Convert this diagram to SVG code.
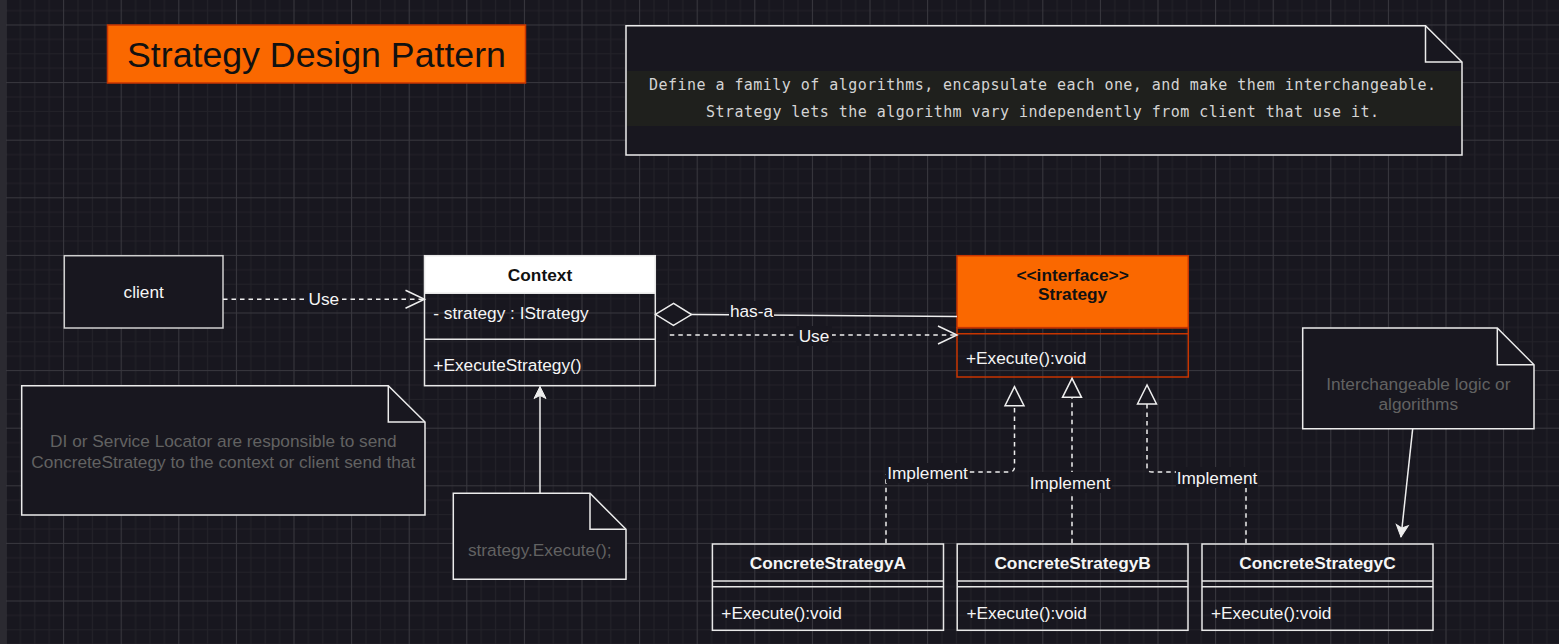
<svg xmlns="http://www.w3.org/2000/svg" width="1559" height="644" viewBox="0 0 1559 644">
<style>
.t{font-family:"Liberation Sans",Arial,Helvetica,sans-serif;font-size:17.28px;fill:#f5f5f5}
.b{font-weight:bold}
.c{text-anchor:middle}
.dk{fill:#111}
.nt{fill:#626262}
.box{fill:none;stroke:#e8e8e8;stroke-width:1.5}
.note{fill:#18171f;stroke:#ececec;stroke-width:1.5}
.e{fill:none;stroke:#eeeeee;stroke-width:1.5}
.d{stroke-dasharray:4.5 4}
.lb{fill:#18171f}
.mono{font-family:"DejaVu Sans Mono","Liberation Mono",monospace;font-size:15px;fill:#d4d4d4;text-anchor:middle}
</style>
<defs>
<pattern id="grid" x="5.5" y="24.5" width="57.6" height="57.6" patternUnits="userSpaceOnUse">
<path d="M14.9,0V57.6M29.3,0V57.6M43.7,0V57.6M0,14.9H57.6M0,29.3H57.6M0,43.7H57.6" stroke="#232229" stroke-width="1" fill="none"/>
<path d="M0.5,0V57.6M0,0.5H57.6" stroke="#39383f" stroke-width="1" fill="none"/>
</pattern>
<marker id="open" markerUnits="userSpaceOnUse" markerWidth="22" markerHeight="22" refX="19" refY="9" orient="auto" overflow="visible">
<path d="M0,0L19,9L0,18" fill="none" stroke="#eeeeee" stroke-width="1.5" stroke-dasharray="none"/>
</marker>
<marker id="tri" markerUnits="userSpaceOnUse" markerWidth="22" markerHeight="22" refX="19" refY="9.5" orient="auto" overflow="visible">
<path d="M19,9.5L0,0L0,19Z" fill="#18171f" stroke="#eeeeee" stroke-width="1.5" stroke-dasharray="none"/>
</marker>
<marker id="dia" markerUnits="userSpaceOnUse" markerWidth="40" markerHeight="24" refX="0" refY="11" orient="auto" overflow="visible">
<path d="M0,11L18,0L36,11L18,22Z" fill="#18171f" stroke="#eeeeee" stroke-width="1.5"/>
</marker>
<marker id="cls" markerUnits="userSpaceOnUse" markerWidth="14" markerHeight="14" refX="12" refY="6" orient="auto" overflow="visible">
<path d="M0,0L12,6L0,12L3,6Z" fill="#eeeeee" stroke="#eeeeee" stroke-width="1"/>
</marker>
</defs>

<rect width="1559" height="644" fill="#18171f"/>
<rect width="1559" height="644" fill="url(#grid)"/>
<rect x="0" y="0" width="6" height="644" fill="#2b2a31"/>

<g id="title">
<rect x="107.5" y="25" width="418" height="58" fill="#fa6800" stroke="#c73500" stroke-width="1.5"/>
<text class="t dk c" x="316.5" y="66.8" style="font-size:35.7px">Strategy Design Pattern</text>
</g>

<g id="definition-note">
<path class="note" d="M626,25.7H1425.5L1462,62V155H626Z"/>
<path d="M1425.5,25.7V62H1462" fill="none" stroke="#ececec" stroke-width="1.5"/>
<rect x="627" y="71" width="834" height="55" fill="#1f201d"/>
<text class="mono" x="1042.5" y="90.3" textLength="787" lengthAdjust="spacing">Define a family of algorithms, encapsulate each one, and make them interchangeable.</text>
<text class="mono" x="1042.5" y="117" textLength="673" lengthAdjust="spacing">Strategy lets the algorithm vary independently from client that use it.</text>
</g>

<g id="client">
<rect x="64.3" y="255.7" width="158.7" height="72.3" fill="#18171f" stroke="#d0d0d0" stroke-width="1.5"/>
<text class="t c" x="143.7" y="298">client</text>
</g>

<g id="context">
<rect x="424.5" y="255.7" width="230.8" height="37.6" fill="#ffffff"/>
<rect class="box" x="424.5" y="255.7" width="230.8" height="130"/>
<line x1="424.5" y1="293.3" x2="655.3" y2="293.3" stroke="#e8e8e8" stroke-width="1.5"/>
<line x1="424.5" y1="339.3" x2="655.3" y2="339.3" stroke="#e8e8e8" stroke-width="1.5"/>
<text class="t b dk c" x="540" y="281">Context</text>
<text class="t" x="433.3" y="319">- strategy : IStrategy</text>
<text class="t" x="433.3" y="370.5">+ExecuteStrategy()</text>
</g>

<g id="strategy">
<rect x="957" y="255.7" width="231.3" height="72" fill="#fa6800" stroke="#c73500" stroke-width="1.5"/>
<rect x="957" y="327.7" width="231.3" height="49.3" fill="none" stroke="#c73500" stroke-width="1.5"/>
<line x1="957" y1="333.7" x2="1188.3" y2="333.7" stroke="#c73500" stroke-width="1.5"/>
<text class="t b dk c" x="1072.6" y="281">&lt;&lt;interface&gt;&gt;</text>
<text class="t b dk c" x="1072.6" y="300">Strategy</text>
<text class="t" x="966" y="364">+Execute():void</text>
</g>

<g id="concrete-a">
<rect class="box" x="712.4" y="544" width="231.1" height="86.3"/>
<line x1="712.4" y1="581" x2="943.5" y2="581" stroke="#e8e8e8" stroke-width="1.5"/>
<line x1="712.4" y1="586.7" x2="943.5" y2="586.7" stroke="#e8e8e8" stroke-width="1.5"/>
<text class="t b c" x="827.9" y="569">ConcreteStrategyA</text>
<text class="t" x="721.3" y="618.5">+Execute():void</text>
</g>

<g id="concrete-b">
<rect class="box" x="957.2" y="544" width="230.8" height="86.3"/>
<line x1="957.2" y1="581" x2="1188" y2="581" stroke="#e8e8e8" stroke-width="1.5"/>
<line x1="957.2" y1="586.7" x2="1188" y2="586.7" stroke="#e8e8e8" stroke-width="1.5"/>
<text class="t b c" x="1072.6" y="569">ConcreteStrategyB</text>
<text class="t" x="966.5" y="618.5">+Execute():void</text>
</g>

<g id="concrete-c">
<rect class="box" x="1202" y="544" width="231" height="86.3"/>
<line x1="1202" y1="581" x2="1433" y2="581" stroke="#e8e8e8" stroke-width="1.5"/>
<line x1="1202" y1="586.7" x2="1433" y2="586.7" stroke="#e8e8e8" stroke-width="1.5"/>
<text class="t b c" x="1317.5" y="569">ConcreteStrategyC</text>
<text class="t" x="1211" y="618.5">+Execute():void</text>
</g>

<g id="note-di">
<path class="note" d="M21.7,385.7H388.3L425,422V515H21.7Z"/>
<path d="M388.3,385.7V422H425" fill="none" stroke="#ececec" stroke-width="1.5"/>
<text class="t nt c" x="223.3" y="447.3">DI or Service Locator are responsible to send</text>
<text class="t nt c" x="223.3" y="468.4">ConcreteStrategy to the context or client send that</text>
</g>

<g id="note-execute">
<path class="note" d="M453.3,493.3H590L626,529.3V579.3H453.3Z"/>
<path d="M590,493.3V529.3H626" fill="none" stroke="#ececec" stroke-width="1.5"/>
<text class="t nt c" x="539.7" y="555.7">strategy.Execute();</text>
</g>

<g id="note-interchangeable">
<path class="note" d="M1302.7,328H1497.3L1534,364.7V428.7H1302.7Z"/>
<path d="M1497.3,328V364.7H1534" fill="none" stroke="#ececec" stroke-width="1.5"/>
<text class="t nt c" x="1418.3" y="389.7">Interchangeable logic or</text>
<text class="t nt c" x="1418.3" y="410">algorithms</text>
</g>

<g id="connectors">
<path class="e d" d="M223,299.3H424.5" marker-end="url(#open)"/>
<rect class="lb" x="306" y="290" width="36" height="20"/>
<text class="t c" x="323.8" y="305.2">Use</text>

<path class="e" d="M655.5,314.3L957,316.5" marker-start="url(#dia)"/>
<rect class="lb" x="729" y="301" width="45" height="19"/>
<text class="t c" x="751.5" y="316.9">has-a</text>

<path class="e d" d="M669.8,335H957" marker-end="url(#open)"/>
<rect class="lb" x="796" y="326" width="36" height="20"/>
<text class="t c" x="814" y="342.4">Use</text>

<path class="e d" d="M886,543.3V477Q886,472 891,472H1009.5Q1014.5,472 1014.5,467V386.7" marker-end="url(#tri)"/>
<rect class="lb" x="886" y="463" width="83" height="20"/>
<text class="t c" x="927.5" y="479">Implement</text>

<path class="e d" d="M1072,543.3V378.3" marker-end="url(#tri)"/>
<rect class="lb" x="1029" y="472" width="83" height="21"/>
<text class="t c" x="1070" y="488.5">Implement</text>

<path class="e d" d="M1246,543.3V477Q1246,472 1241,472H1152Q1147,472 1147,467V385" marker-end="url(#tri)"/>
<rect class="lb" x="1176" y="467" width="82" height="21"/>
<text class="t c" x="1217" y="483.5">Implement</text>

<path class="e" d="M1412.7,428.7L1401,537" marker-end="url(#cls)"/>
<path class="e" d="M540,493.3V386.5" marker-end="url(#cls)"/>
</g>
</svg>
